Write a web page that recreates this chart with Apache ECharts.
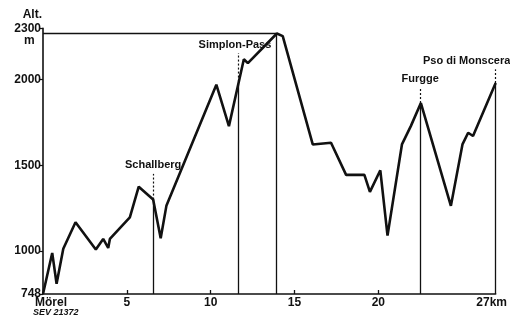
<!DOCTYPE html>
<html><head><meta charset="utf-8">
<script src="https://cdn.jsdelivr.net/npm/echarts@6/dist/echarts.min.js"></script>
<style>html,body{margin:0;padding:0;background:#fff}#c{width:510px;height:318px}</style>
</head><body><div id="c"></div>
<script>
// Distance along route (km) and altitude (m)
var profileKm  = [0, 0.55, 0.81, 1.21, 1.94, 3.15, 3.59, 3.89, 3.99, 5.18, 5.71, 6.57, 7.02, 7.36, 10.34, 11.09, 11.98, 12.22, 13.95, 14.3, 16.09, 17.18, 18.08, 19.17, 19.5, 20.12, 20.55, 21.41, 21.94, 22.54, 24.33, 25.02, 25.36, 25.65, 27.0];
var profileAlt = [748, 988, 808, 1012, 1167, 1008, 1070, 1017, 1070, 1196, 1375, 1300, 1074, 1263, 1971, 1729, 2120, 2097, 2270, 2255, 1622, 1632, 1444, 1444, 1345, 1471, 1089, 1622, 1729, 1864, 1263, 1622, 1690, 1671, 1981];
var passNames = ['Schallberg', 'Simplon-Pass', 'Furgge', 'Pso di Monscera'];
var passKm    = [6.57, 11.63, 22.5, 27.0];
var passAlt   = [1300, 1966, 1864, 1981];
var summitKm  = 13.9;
var summitAlt = 2270;
var yTicks = [748, 1000, 1500, 2000, 2300];
var xTicks = [0, 5, 10, 15, 20, 27];
var xTickLabels = ['Mörel', '5', '10', '15', '20', '27km'];

// styling (not data)
var labelLift = [150, 190, 90, 80];
var labelOffset = [[0, 0], [-3, 0], [0, 0], [-29, 0]];
var FONT = 'Liberation Sans';

var series = [];
series.push({
  type: 'line', data: profileKm.map(function (k, i) { return [k, profileAlt[i]]; }),
  symbol: 'none', lineStyle: { color: '#111', width: 2.6 }, z: 5, silent: true
});
var solid = [], dotted = [];
passNames.forEach(function (n, i) {
  solid.push([{ coord: [passKm[i], yTicks[0]] }, { coord: [passKm[i], passAlt[i]] }]);
  dotted.push([{ coord: [passKm[i], passAlt[i]] }, {
    coord: [passKm[i], passAlt[i] + labelLift[i]],
    label: { show: true, position: 'end', formatter: n, offset: labelOffset[i], distance: 3,
      color: '#111', fontFamily: FONT, fontWeight: 'bold', fontSize: 11 }
  }]);
});
solid.push([{ coord: [summitKm, yTicks[0]] }, { coord: [summitKm, summitAlt] }]);
solid.push([{ coord: [0, summitAlt] }, { coord: [summitKm, summitAlt] }]);
series.push({
  type: 'line', data: [], silent: true,
  markLine: { symbol: ['none', 'none'], silent: true, animation: false,
    lineStyle: { color: '#111', width: 1.3, type: 'solid' }, label: { show: false }, data: solid }
});
series.push({
  type: 'line', data: [], silent: true,
  markLine: { symbol: ['none', 'none'], silent: true, animation: false,
    lineStyle: { color: '#111', width: 1.2, type: [2, 2] }, data: dotted }
});

var chart = echarts.init(document.getElementById('c'), null, { renderer: 'canvas' });
chart.setOption({
  backgroundColor: '#fff',
  animation: false,
  grid: { left: 43, right: 13, top: 28.4, bottom: 24 },
  xAxis: {
    type: 'value', min: 0, max: 27,
    axisLine: { lineStyle: { color: '#111', width: 1.6 } },
    splitLine: { show: false },
    axisTick: { inside: true, length: 4, lineStyle: { color: '#111', width: 1.3 }, customValues: [5, 10, 15, 20] },
    axisLabel: {
      customValues: xTicks, margin: 3, color: '#111', fontFamily: FONT, fontWeight: 'bold', fontSize: 12,
      formatter: function (v) {
        var i = xTicks.indexOf(v); var t = i >= 0 ? xTickLabels[i] : '';
        if (i === 0) return '{a|' + t + '}';
        if (i === xTicks.length - 1) return '{b|' + t + '}';
        return t;
      },
      rich: {
        a: { padding: [0, 0, 0, 16], fontFamily: FONT, fontWeight: 'bold', fontSize: 12, color: '#111' },
        b: { padding: [0, 8, 0, 0], fontFamily: FONT, fontWeight: 'bold', fontSize: 12, color: '#111' }
      }
    }
  },
  yAxis: {
    type: 'value', min: 748, max: 2300,
    name: 'Alt.', nameLocation: 'end', nameGap: 8,
    nameTextStyle: { color: '#111', fontFamily: FONT, fontWeight: 'bold', fontSize: 12, align: 'right', padding: [0, 1, 0, 0] },
    axisLine: { show: true, lineStyle: { color: '#111', width: 1.6 } },
    splitLine: { show: false },
    axisTick: { show: true, length: 3, lineStyle: { color: '#111', width: 1.2 }, customValues: yTicks },
    axisLabel: { customValues: yTicks, margin: 2, color: '#111', fontFamily: FONT, fontWeight: 'bold', fontSize: 12,
      formatter: function (v) { return String(v); } }
  },
  graphic: [
    { type: 'text', left: 24, top: 35, style: { text: 'm', fill: '#111', font: 'bold 12px "Liberation Sans"' } },
    { type: 'text', left: 33, top: 308, style: { text: 'SEV 21372', fill: '#111', font: 'italic bold 9px "Liberation Sans"' } }
  ],
  series: series
});
</script>
</body></html>
